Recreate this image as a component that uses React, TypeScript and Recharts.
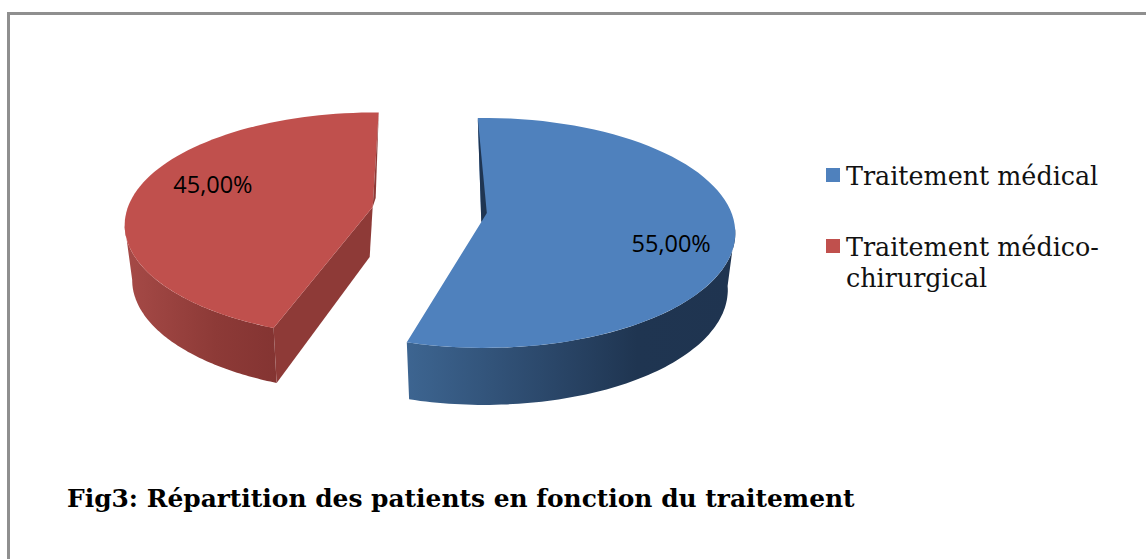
import React from "react";
import { PieChart, Pie, Cell, Legend } from "recharts";

const categories = ["Traitement médical", "Traitement médico-chirurgical"];
const shares = [55, 45];
const labels = ["55,00%", "45,00%"];
const title = "Fig3: Répartition des patients en fonction du traitement";
const topColors = ["#4f81bd", "#c0504d"];
const cutColors = ["#1f3552", "#8e3a37"];
const wallStops = [
  [["0%", "#3d6591"], ["45%", "#2a4668"], ["70%", "#1f3551"], ["100%", "#1f3450"]],
  [["0%", "#a64a47"], ["60%", "#8d3a37"], ["100%", "#843432"]],
];

const W = 1146;
const H = 559;
const SQUASH = 0.458;
const EXPLODE = 55;
// Small per-slice corrections that imitate the 3D projection.
const tweak = [
  { rotStart: -1.5, rotEnd: 0, apexX: -3, apexY: -11, dy: 0, ryScale: 1, depth: 57, lblRot: -2, lblR: 0.75 },
  { rotStart: 6, rotEnd: 0.7, apexX: -3, apexY: -18, dy: 0, ryScale: 0.98, depth: 55, lblRot: 20.5, lblR: 0.745 },
];

const rad = (d: number) => (d * Math.PI) / 180;

function slicePlace(p: any, index: number) {
  const mid = 90 - p.midAngle; // clockwise from top
  const rx = p.outerRadius;
  const ry = rx * SQUASH * tweak[index].ryScale;
  const x0 = p.cx + EXPLODE * Math.sin(rad(mid));
  const y0 = p.cy - EXPLODE * SQUASH * Math.cos(rad(mid)) + tweak[index].dy;
  return { mid, rx, ry, x0, y0 };
}

function Slice3D(props: any) {
  const index: number = props.index ?? 0;
  const t = tweak[index];
  const { rx, ry, x0, y0 } = slicePlace(props, index);
  const a0 = 90 - props.startAngle + t.rotStart;
  const a1 = 90 - props.endAngle + t.rotEnd;
  const top = (a: number) => [x0 + rx * Math.sin(rad(a)), y0 - ry * Math.cos(rad(a))];
  const bot = (a: number) => [x0 + 0.97 * rx * Math.sin(rad(a)), y0 + t.depth - ry * Math.cos(rad(a))];
  const arc = (f: (a: number) => number[], from: number, to: number) => {
    const pts: string[] = [];
    const n = 80;
    for (let i = 0; i <= n; i++) {
      const p = f(from + ((to - from) * i) / n);
      pts.push(`${p[0].toFixed(1)} ${p[1].toFixed(1)}`);
    }
    return pts;
  };
  const apex = [x0 + t.apexX, y0 + t.apexY];
  const surface = `M${apex[0]} ${apex[1]}L${arc(top, a0, a1).join("L")}Z`;
  const id = `wall${index}`;
  let wallFrom: number, wallTo: number;
  if (index === 0) {
    wallFrom = 88;
    wallTo = a1;
  } else {
    wallFrom = a0;
    wallTo = 270;
  }
  const wall = `M${arc(top, wallFrom, wallTo).join("L")}L${arc(bot, wallTo, wallFrom).join("L")}Z`;
  const rimA = index === 0 ? top(a0) : top(a1);
  const sliver = `M${rimA[0]} ${rimA[1]}L${apex[0] + (index === 0 ? 5.5 : 3)} ${apex[1] - 9}L${apex[0]} ${apex[1]}Z`;
  let cut = "";
  if (index === 1) {
    const e = top(a0);
    const eb = bot(a0);
    cut = `M${apex[0]} ${apex[1]}L${apex[0] - 3} ${apex[1] + 50}L${eb[0]} ${eb[1]}L${e[0]} ${e[1]}Z`;
  }
  return (
    <g>
      <defs>
        <linearGradient id={id} x1="0" x2="1" y1="0" y2="0">
          {wallStops[index].map(([o, c]) => (
            <stop key={o} offset={o} stopColor={c} />
          ))}
        </linearGradient>
      </defs>
      {cut && <path d={cut} fill={cutColors[index]} />}
      <path d={wall} fill={`url(#${id})`} />
      <path d={surface} fill={topColors[index]} />
      <path d={sliver} fill={cutColors[index]} />
    </g>
  );
}

function SliceLabel(props: any) {
  const index: number = props.index ?? 0;
  const t = tweak[index];
  const { mid, rx, ry, x0, y0 } = slicePlace(props, index);
  const a = mid + t.lblRot;
  return (
    <text
      x={x0 + t.lblR * rx * Math.sin(rad(a))}
      y={y0 - t.lblR * ry * Math.cos(rad(a))}
      textAnchor="middle"
      dominantBaseline="central"
      fontFamily="'Open Sans'"
      fontSize={23.5}
      fill="#000"
    >
      {labels[index]}
    </text>
  );
}

function LegendBox() {
  return (
    <div style={{ fontFamily: "'DejaVu Serif'", fontSize: 25.4, lineHeight: "31px", color: "#111" }}>
      {categories.map((c, i) => (
        <div key={c} style={{ display: "flex", alignItems: "flex-start", marginBottom: i === 0 ? 40 : 0 }}>
          <span style={{ width: 14, height: 14, marginTop: 7, marginRight: 6, flex: "none", background: topColors[i] }} />
          <span style={{ width: 275 }}>{c}</span>
        </div>
      ))}
    </div>
  );
}

const data = categories.map((name, i) => ({ name, value: shares[i] }));

export default function App() {
  return (
    <div style={{ position: "absolute", left: 0, top: 0, width: W, height: H, background: "#fff", overflow: "hidden" }}>
      <div style={{ position: "absolute", left: 7, top: 12, width: W, height: H, borderLeft: "3px solid #8f8f8f", borderTop: "3px solid #8f8f8f" }} />
      <PieChart width={W} height={H} style={{ position: "absolute", left: 0, top: 0 }}>
        <Pie
          data={data}
          dataKey="value"
          nameKey="name"
          cx={425}
          cy={224}
          outerRadius={251}
          startAngle={90}
          endAngle={-270}
          isAnimationActive={false}
          shape={Slice3D}
          label={SliceLabel}
          labelLine={false}
          stroke="none"
        >
          {data.map((d, i) => (
            <Cell key={d.name} fill={topColors[i]} />
          ))}
        </Pie>
        <Legend
          layout="vertical"
          content={<LegendBox />}
          wrapperStyle={{ position: "absolute", left: 826, top: 161, width: 300, height: "auto" }}
        />
      </PieChart>
      <div
        style={{
          position: "absolute",
          left: 67,
          top: 484,
          fontFamily: "'DejaVu Serif'",
          fontWeight: 700,
          fontSize: 24.9,
          whiteSpace: "nowrap",
          color: "#000",
        }}
      >
        {title}
      </div>
    </div>
  );
}
